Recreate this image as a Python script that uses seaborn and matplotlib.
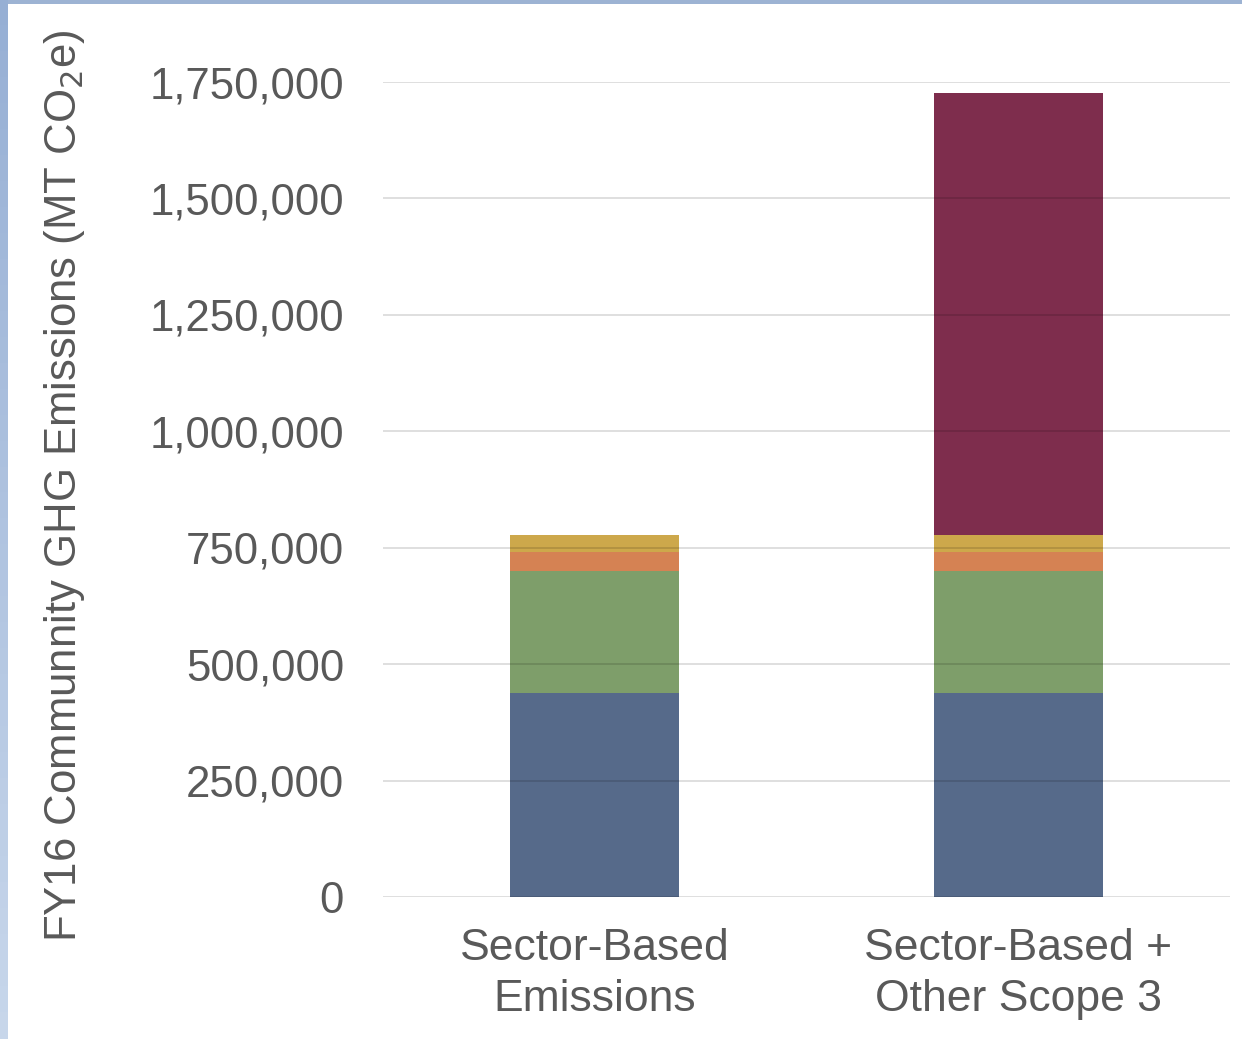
import matplotlib
matplotlib.use("Agg")
import matplotlib.pyplot as plt
from matplotlib.patches import Rectangle
from matplotlib.ticker import FuncFormatter
import seaborn as sns
import pandas as pd
import numpy as np

categories = ["Sector-Based\nEmissions", "Sector-Based +\nOther Scope 3"]
series_names = ["Segment 1", "Segment 2", "Segment 3", "Segment 4", "Other Scope 3"]
seg1 = [438000, 438000]
seg2 = [262000, 262000]
seg3 = [41000, 41000]
seg4 = [37000, 37000]
scope3 = [0, 949000]
colors = ["#566a8a", "#7e9e6a", "#d58253", "#cda84b", "#7e2d4d"]
yticks = [0, 250000, 500000, 750000, 1000000, 1250000, 1500000, 1750000]

sns.set_style("white")
plt.rcParams["font.family"] = ["Liberation Sans", "DejaVu Sans"]

fig = plt.figure(figsize=(12.42, 10.39), dpi=100)
ax = fig.add_axes([383/1242, 1-897/1039, (1230-383)/1242, (897-82)/1039])

values = np.array([seg1, seg2, seg3, seg4, scope3], dtype=float)
cum = np.cumsum(values, axis=0)

# draw from the top of the stack downwards so lower segments overlay
for i in range(len(series_names) - 1, -1, -1):
    df = pd.DataFrame({"cat": categories, "val": cum[i]})
    sns.barplot(data=df, x="cat", y="val", color=colors[i], width=0.4,
                saturation=1, linewidth=0, ax=ax)

ax.set_ylim(0, 1750000)
ax.set_xlim(-0.5, 1.5)
ax.set_yticks(yticks)
ax.yaxis.set_major_formatter(FuncFormatter(lambda v, p: f"{int(v):,}"))
ax.grid(axis="y", color="#000000", alpha=0.13, linewidth=1.4)
ax.set_axisbelow(False)
for s in ax.spines.values():
    s.set_visible(False)

ax.tick_params(axis="y", labelsize=31.5, labelcolor="#595959", length=0, pad=28)
ax.tick_params(axis="x", labelsize=32, labelcolor="#595959", length=0, pad=22)
for lbl in ax.get_xticklabels():
    lbl.set_linespacing(1.32)
ax.set_xlabel("")
ax.set_ylabel("FY16 Communnity GHG Emissions (MT CO$_2$e)", fontsize=31.5,
              color="#595959")
ax.yaxis.set_label_coords(-(383-87)/847, 0.505)

# blue frame at left and top
fig.patches.append(Rectangle((0, 1-4/1039), 1, 4/1039, transform=fig.transFigure,
                             facecolor="#9db3d3", edgecolor="none", zorder=0))
n = 40
for k in range(n):
    t = k / n
    c0 = np.array([150, 175, 212]) / 255
    c1 = np.array([200, 215, 235]) / 255
    col = c0 * (1 - t) + c1 * t
    fig.patches.append(Rectangle((0, 1 - (k + 1) / n), 8/1242, 1/n + 0.001,
                                 transform=fig.transFigure, facecolor=col,
                                 edgecolor="none", zorder=0))

fig.savefig("out.png", dpi=100)
